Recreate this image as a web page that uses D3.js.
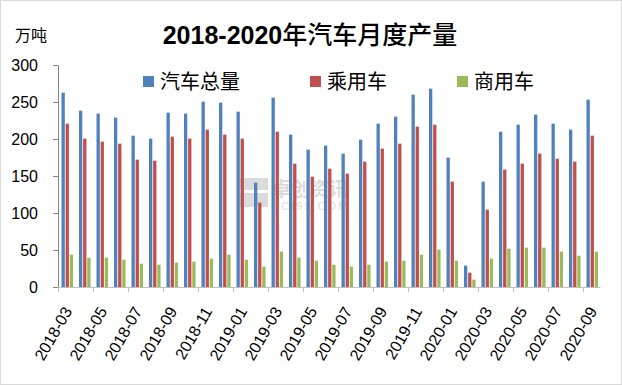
<!DOCTYPE html>
<html>
<head>
<meta charset="utf-8">
<script src="https://cdn.jsdelivr.net/npm/d3@7"></script>
<style>
  body { margin: 0; background: #fff; }
  svg { display: block; font-family: "Liberation Sans", Arial, sans-serif; }
</style>
</head>
<body>
<svg id="chart"></svg>
<script>
// months 2018-03 .. 2020-09
const months = ["2018-03","2018-04","2018-05","2018-06","2018-07","2018-08","2018-09","2018-10",
  "2018-11","2018-12","2019-01","2019-02","2019-03","2019-04","2019-05","2019-06","2019-07",
  "2019-08","2019-09","2019-10","2019-11","2019-12","2020-01","2020-02","2020-03","2020-04",
  "2020-05","2020-06","2020-07","2020-08","2020-09"];

const seriesNames = ["汽车总量", "乘用车", "商用车"];

const total = [262.6, 238.3, 234.3, 228.9, 204.5, 200.5, 235.6, 234.3, 250.5, 249.1, 237.0, 141.0,
  255.9, 205.9, 185.6, 191.0, 180.2, 199.1, 220.7, 230.2, 259.9, 268.0, 174.8, 28.8, 142.4,
  209.9, 219.4, 232.9, 220.7, 212.6, 253.2];
const passenger = [220.7, 200.5, 196.4, 193.7, 172.1, 170.7, 203.2, 200.5, 212.6, 205.9, 200.5, 114.0,
  209.9, 166.7, 149.1, 159.9, 153.2, 169.4, 187.0, 193.7, 216.7, 219.4, 142.4, 19.4, 104.5,
  158.6, 166.7, 180.2, 173.4, 169.4, 204.5];
const commercial = [43.7, 39.6, 39.6, 36.9, 31.5, 30.2, 32.9, 34.2, 38.3, 43.7, 36.9, 27.5,
  47.8, 39.6, 35.6, 30.2, 27.5, 30.2, 34.2, 35.6, 43.7, 50.5, 35.6, 9.9, 38.3,
  51.8, 53.2, 53.2, 47.8, 42.3, 47.8];

const yTicks = [0, 50, 100, 150, 200, 250, 300];
const colors = ["#4F81BD", "#C0504D", "#9BBB59"];

const W = 622, H = 385;
const svg = d3.select("#chart").attr("width", W).attr("height", H);

svg.append("rect")
   .attr("x", 0.5).attr("y", 0.5)
   .attr("width", W - 1).attr("height", H - 1)
   .attr("fill", "#fff").attr("stroke", "#d9d9d9");

const plot = { left: 58, right: 600.5, top: 65, bottom: 287 };

const x = d3.scaleBand().domain(months).range([plot.left, plot.right]).padding(0);
const bw = x.bandwidth();
const xs = d3.scaleBand().domain(seriesNames).range([bw * 0.2, bw * 0.86]).paddingInner(0.2);
const y = d3.scaleLinear().domain([0, 300]).range([plot.bottom, plot.top]);

const rows = months.map((m, i) => ({ month: m, values: [total[i], passenger[i], commercial[i]] }));

// watermark
const wm = svg.append("g").attr("opacity", 0.35);
wm.append("rect").attr("x", 240).attr("y", 178).attr("width", 28).attr("height", 12).attr("fill", "#999");
wm.append("rect").attr("x", 240).attr("y", 193).attr("width", 28).attr("height", 14).attr("fill", "#999");
wm.append("text").attr("x", 272).attr("y", 196).attr("font-size", 19).attr("fill", "#999")
  .attr("font-family", "Noto Sans CJK SC").attr("font-weight", "bold").text("卓创资讯");
wm.append("text").attr("x", 272).attr("y", 210).attr("font-size", 11).attr("fill", "#999")
  .attr("letter-spacing", 2).text("SCI99.COM");

// bars
const groups = svg.selectAll(".grp")
  .data(rows)
  .enter().append("g")
  .attr("class", "grp")
  .attr("transform", d => `translate(${x(d.month)},0)`);

groups.selectAll("rect")
  .data(d => d.values.map((v, k) => ({ key: seriesNames[k], v: v, k: k })))
  .enter().append("rect")
  .attr("x", d => xs(d.key))
  .attr("width", xs.bandwidth())
  .attr("y", d => y(d.v))
  .attr("height", d => y(0) - y(d.v))
  .attr("fill", d => colors[d.k]);

// y axis
const yAxis = svg.append("g")
  .attr("transform", `translate(${plot.left},0)`)
  .call(d3.axisLeft(y).tickValues(yTicks).tickSize(5).tickSizeOuter(0).tickPadding(15));
yAxis.select(".domain").attr("stroke", "#868686");
yAxis.selectAll(".tick line").attr("stroke", "#868686");
yAxis.selectAll("text").attr("font-size", 16).attr("fill", "#000")
  .attr("font-family", "Liberation Sans, Arial, sans-serif");

// x axis line + ticks every 2 months
svg.append("line")
  .attr("x1", plot.left).attr("x2", plot.right)
  .attr("y1", plot.bottom + 0.5).attr("y2", plot.bottom + 0.5)
  .attr("stroke", "#bfbfbf");

const labelMonths = months.filter((m, i) => i % 2 === 0);

svg.selectAll(".xtick")
  .data(labelMonths)
  .enter().append("line")
  .attr("class", "xtick")
  .attr("x1", d => Math.round(x(d)) + 0.5).attr("x2", d => Math.round(x(d)) + 0.5)
  .attr("y1", plot.bottom).attr("y2", plot.bottom + 5)
  .attr("stroke", "#bfbfbf");

svg.selectAll(".xlabel")
  .data(labelMonths)
  .enter().append("text")
  .attr("class", "xlabel")
  .attr("text-anchor", "end")
  .attr("font-size", 16)
  .attr("transform", d => `translate(${x(d) + bw / 2 + 6},311) rotate(-60)`)
  .text(d => d);

// title and unit
const title = svg.append("text")
  .attr("x", 310).attr("y", 44)
  .attr("text-anchor", "middle")
  .attr("font-size", 25);
title.append("tspan").attr("font-weight", "bold").text("2018-2020");
title.append("tspan").attr("font-family", "Noto Sans CJK SC").attr("font-weight", 500).text("年汽车月度产量");

svg.append("text")
  .attr("x", 15).attr("y", 41)
  .attr("font-size", 16)
  .attr("font-family", "Noto Sans CJK SC")
  .text("万吨");

// legend
const legendX = [143, 310, 457];
const legend = svg.selectAll(".leg")
  .data(seriesNames)
  .enter().append("g")
  .attr("class", "leg")
  .attr("transform", (d, i) => `translate(${legendX[i]},76)`);
legend.append("rect").attr("width", 11).attr("height", 11).attr("fill", (d, i) => colors[i]);
legend.append("text")
  .attr("x", 17).attr("y", 13)
  .attr("font-size", 20)
  .attr("font-family", "Noto Sans CJK SC")
  .text(d => d);
</script>
</body>
</html>
